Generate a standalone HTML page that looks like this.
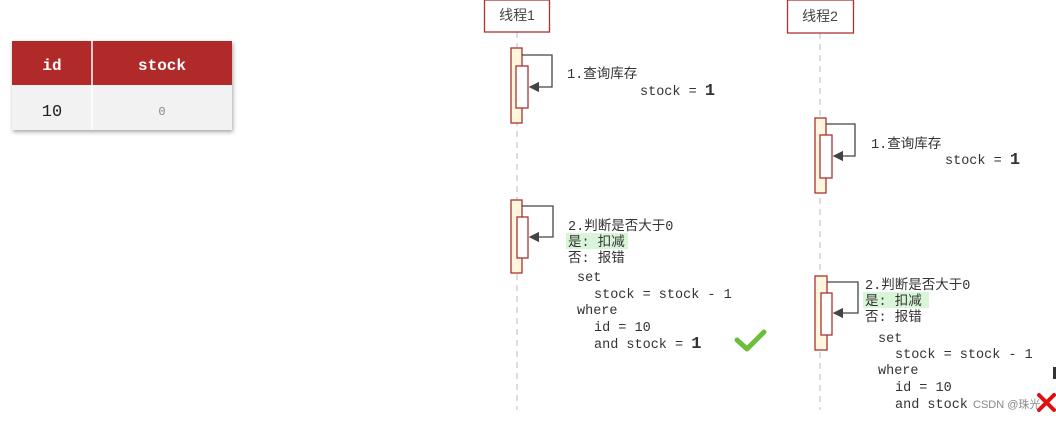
<!DOCTYPE html>
<html><head><meta charset="utf-8"><style>
html,body{margin:0;padding:0;background:#fff;width:1056px;height:421px;overflow:hidden}
svg{display:block}
.m{font-family:"Liberation Mono","Noto Sans CJK SC",monospace;font-size:13.5px;fill:#333}
.c{font-family:"Liberation Sans","Noto Sans CJK SC",sans-serif}
</style></head><body>
<svg width="1056" height="421" xmlns="http://www.w3.org/2000/svg">
<defs>
<filter id="sh" x="-10%" y="-10%" width="130%" height="140%"><feDropShadow dx="1" dy="2" stdDeviation="2" flood-color="#000" flood-opacity="0.35"/></filter>
<marker id="ar" markerWidth="8" markerHeight="8" refX="7" refY="4" orient="auto"><path d="M0,0 L8,4 L0,8 z" fill="#444"/></marker>
</defs>
<!-- table -->
<g filter="url(#sh)">
<rect x="12" y="41" width="220" height="89" fill="#f2f2f2"/>
</g>
<rect x="12" y="41" width="220" height="44" fill="#b02a2a"/>
<line x1="92" y1="41" x2="92" y2="130" stroke="#fff" stroke-width="1.5"/>
<text x="52" y="70" class="m" style="font-size:16px;font-weight:bold;fill:#fff" text-anchor="middle">id</text>
<text x="162" y="70" class="m" style="font-size:16px;font-weight:bold;fill:#fff" text-anchor="middle">stock</text>
<text x="52" y="116" class="m" style="font-size:17px;fill:#222" text-anchor="middle">10</text>
<text x="162" y="115" class="m" style="font-size:12px;fill:#888" text-anchor="middle">0</text>

<!-- lifelines -->
<line x1="517" y1="32" x2="517" y2="410" stroke="#bbb" stroke-dasharray="6,5"/>
<line x1="820" y1="33" x2="820" y2="410" stroke="#bbb" stroke-dasharray="6,5"/>
<rect x="484.5" y="0" width="65" height="32" fill="#fff" stroke="#a33" stroke-width="1.3"/>
<text x="517" y="20" class="c" style="font-size:14px;fill:#444" text-anchor="middle">线程1</text>
<rect x="787.5" y="0" width="66" height="33" fill="#fff" stroke="#a33" stroke-width="1.3"/>
<text x="820" y="21" class="c" style="font-size:14px;fill:#444" text-anchor="middle">线程2</text>

<g stroke="#a33" stroke-width="1.3">
<rect x="511" y="48" width="11" height="75" fill="#fff6dd"/>
<rect x="516" y="66" width="12" height="42" fill="#fff"/>
<rect x="815" y="118" width="11" height="75" fill="#fff6dd"/>
<rect x="820" y="135" width="12" height="43" fill="#fff"/>
<rect x="511" y="200" width="11" height="73" fill="#fff6dd"/>
<rect x="517" y="217" width="11" height="41" fill="#fff"/>
<rect x="815" y="276" width="12" height="74" fill="#fff6dd"/>
<rect x="821" y="293" width="11" height="42" fill="#fff"/>
</g>
<g fill="none" stroke="#444" stroke-width="1.3">
<path d="M522,55 H552 V87 H530" marker-end="url(#ar)"/>
<path d="M826,124 H855 V156 H834" marker-end="url(#ar)"/>
<path d="M522,206 H553 V237 H530" marker-end="url(#ar)"/>
<path d="M827,282 H858 V313 H834" marker-end="url(#ar)"/>
</g>

<text x="567" y="78" class="m">1.查询库存</text>
<text x="640" y="95" class="m">stock = <tspan style="font-size:17px;font-weight:bold">1</tspan></text>
<text x="871" y="148" class="m">1.查询库存</text>
<text x="945" y="164" class="m">stock = <tspan style="font-size:17px;font-weight:bold">1</tspan></text>

<rect x="566" y="233" width="62" height="16" fill="#d8f5d8"/>
<text x="568" y="230" class="m">2.判断是否大于0</text>
<text x="568" y="246" class="m">是: 扣减</text>
<text x="568" y="262" class="m">否: 报错</text>
<text x="577" y="281" class="m">set</text>
<text x="594" y="298" class="m">stock = stock - 1</text>
<text x="577" y="314" class="m">where</text>
<text x="594" y="331" class="m">id = 10</text>
<text x="594" y="348" class="m">and stock = <tspan style="font-size:17px;font-weight:bold">1</tspan></text>
<path d="M737,340 L747,349 L764,332" fill="none" stroke="#6bbf3a" stroke-width="5" stroke-linecap="round" stroke-linejoin="round"/>

<rect x="863" y="292" width="66" height="16" fill="#d8f5d8"/>
<text x="865" y="289" class="m">2.判断是否大于0</text>
<text x="865" y="305" class="m">是: 扣减</text>
<text x="865" y="321" class="m">否: 报错</text>
<text x="878" y="342" class="m">set</text>
<text x="895" y="358" class="m">stock = stock - 1</text>
<text x="878" y="374" class="m">where</text>
<text x="895" y="391" class="m">id = 10</text>
<text x="895" y="408" class="m">and stock</text>
<text x="973" y="408" class="c" style="font-size:11px;fill:#888">CSDN @珠光</text>
<rect x="1053" y="367" width="3" height="12" fill="#333"/>
<path d="M1039,395 L1054,410 M1054,395 L1039,410" stroke="#e01010" stroke-width="4" stroke-linecap="round"/>
</svg>
</body></html>
